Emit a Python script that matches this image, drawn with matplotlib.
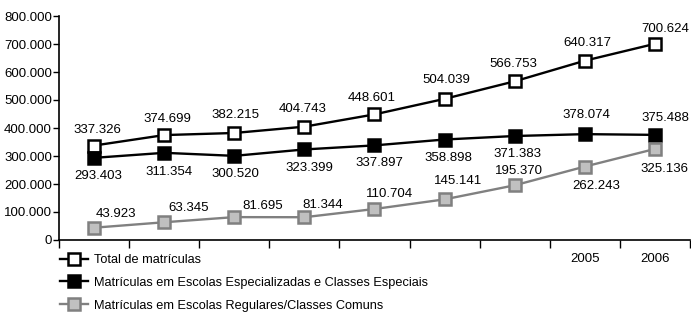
import matplotlib
matplotlib.use("Agg")
import matplotlib.pyplot as plt
from matplotlib.ticker import FuncFormatter, FixedLocator
import numpy as np

plt.rcParams['font.family'] = ['Liberation Sans', 'DejaVu Sans']

years = ['1998', '1999', '2000', '2001', '2002', '2003', '2004', '2005', '2006']
year_labels = ['', '', '', '', '', '', '', '2005', '2006']
total = [337326, 374699, 382215, 404743, 448601, 504039, 566753, 640317, 700624]
especiais = [293403, 311354, 300520, 323399, 337897, 358898, 371383, 378074, 375488]
regulares = [43923, 63345, 81695, 81344, 110704, 145141, 195370, 262243, 325136]
series_names = ['Total de matrículas',
                'Matrículas em Escolas Especializadas e Classes Especiais',
                'Matrículas em Escolas Regulares/Classes Comuns']

def fmt(v):
    return '{:,}'.format(int(v)).replace(',', '.')

fig = plt.figure(figsize=(6.91, 3.18), dpi=100)
ax = fig.add_axes([59/691, 1-240/318, 1-59/691-0.0015, (240-16)/318])

x = np.arange(len(years))
ms = 9
ax.plot(x, total, color='black', lw=1.7, marker='s', ms=ms, mfc='white', mec='black', mew=1.8,
        label=series_names[0], zorder=3)
ax.plot(x, especiais, color='black', lw=1.7, marker='s', ms=ms, mfc='black', mec='black', mew=1.8,
        label=series_names[1], zorder=3)
ax.plot(x, regulares, color='#808080', lw=1.7, marker='s', ms=ms, mfc='#c0c0c0', mec='#808080', mew=1.8,
        label=series_names[2], zorder=3)

# label offsets in pixels (dx, dy)
px = 0.72
tot_off = [(3, 16), (3, 16), (1, 18), (-2, 18), (-3, 16), (2, 19), (-1, 17), (3, 18), (10, 15)]
esp_off = [(4, -18), (5, -19), (1, -18), (5, -19), (5, -18), (4, -18), (3, -18), (2, 19), (10, 17)]
reg_off = [(22, 14), (24, 14), (28, 11), (18, 12), (15, 15), (13, 18), (4, 14), (11, -19), (10, -20)]

for data, offs in [(total, tot_off), (especiais, esp_off), (regulares, reg_off)]:
    for xi, v, (dx, dy) in zip(x, data, offs):
        ax.annotate(fmt(v), (xi, v), xytext=(dx*px, dy*px), textcoords='offset points',
                    ha='center', va='center', fontsize=9.5, color='black')

ax.set_xlim(-0.5, len(years)-0.5)
ax.set_ylim(0, 800000)
ax.yaxis.set_major_locator(FixedLocator(np.arange(0, 800001, 100000)))
ax.yaxis.set_major_formatter(FuncFormatter(lambda v, p: fmt(v)))
ax.tick_params(axis='y', direction='out', length=4, width=1, labelsize=9.5, pad=1)

ax.set_xticks(x)
ax.set_xticklabels(year_labels, fontsize=9.5)
ax.set_xticks(np.arange(-0.5, len(years)), minor=True)
ax.tick_params(axis='x', which='major', length=0, pad=9)
ax.tick_params(axis='x', which='minor', direction='out', length=6, width=1)

for s in ['top', 'right']:
    ax.spines[s].set_visible(False)
for s in ['left', 'bottom']:
    ax.spines[s].set_linewidth(1.2)

fig.legend(loc='upper left', bbox_to_anchor=(60/691, 1-254/318), frameon=False,
           fontsize=9.2, handlelength=2.2, handletextpad=0.5, labelspacing=0.85,
           borderaxespad=0, borderpad=0)

fig.savefig('out.png', dpi=100)
